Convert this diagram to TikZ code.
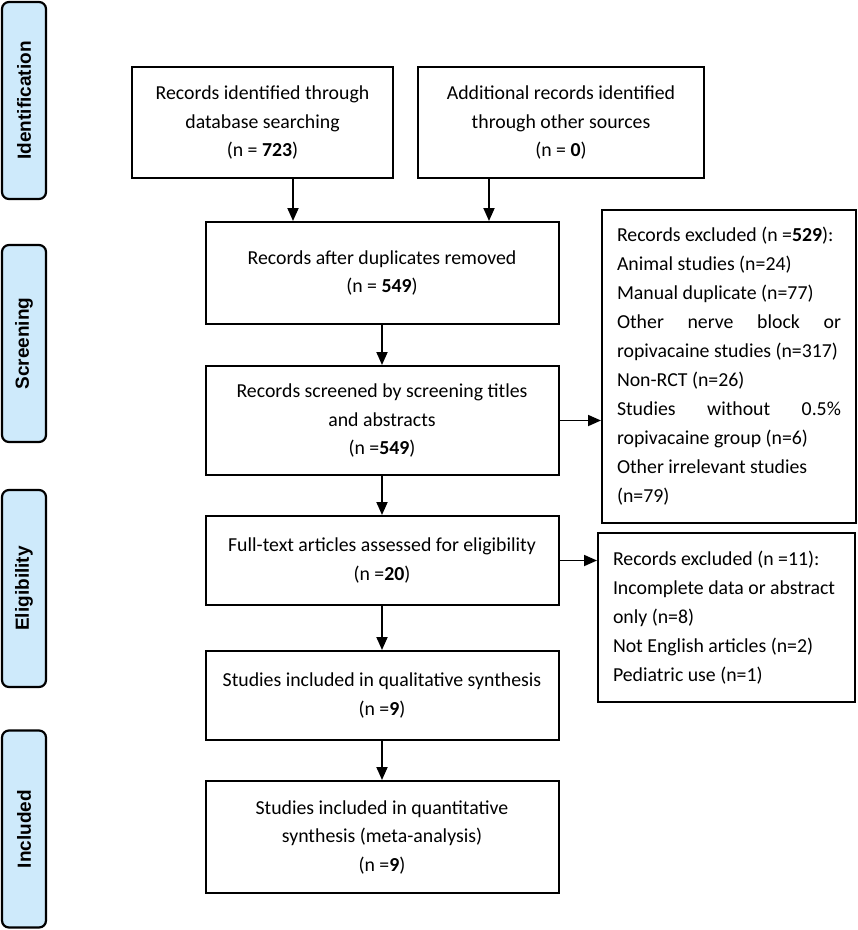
\documentclass[tikz,border=0pt]{standalone}
\usepackage{fontspec}
\usepackage{xcolor}
\setmainfont{Carlito}
\newfontfamily\barfont{Liberation Sans}
\usetikzlibrary{arrows.meta}
\definecolor{barblue}{RGB}{206,234,251}

\begin{document}
\begin{tikzpicture}[x=1pt,y=-1pt,
                flow box/.style={draw=black,line width=2pt,rectangle,minimum width=#1,minimum height=20pt,align=center,inner sep=0pt,font=\fontsize{19.8}{28.5}\selectfont},
                flow box/.default=353pt,
                excl box/.style={draw=black,line width=2pt,rectangle,text width=#1,align=justify,inner xsep=15pt,inner ysep=0pt,font=\fontsize{19.8}{29}\selectfont},
                side bar/.style={draw=black,line width=2.2pt,fill=barblue,rounded corners=7pt,rotate=90,minimum width=197pt,minimum height=44pt,inner sep=0pt,font=\barfont\bfseries\fontsize{19}{20}\selectfont},
                flow arrow/.style={line width=1.8pt,-{Triangle[length=13pt,width=11pt]}}]
                \useasboundingbox (0,0) rectangle (858,930);
                % phase bars on the left
                \node[side bar] (identBar) at (24,100.5) {Identification};
                \node[side bar] (screenBar) at (24,343.5) {Screening};
                \node[side bar] (eligBar) at (24,588.5) {Eligibility};
                \node[side bar] (inclBar) at (24,829) {Included};
                % main flow
                \node[flow box=261pt,minimum height=111pt] (database) at (262.5,122.5) {Records identified through\\database searching\\(n = \textbf{723})};
                \node[flow box=286pt,minimum height=111pt] (otherSrc) at (561,122.5) {Additional records identified\\through other sources\\(n = \textbf{0})};
                \node[flow box,minimum height=102pt] (dupRemoved) at (382,273) {Records after duplicates removed\\(n = \textbf{549})};
                \node[flow box,minimum height=109pt] (screened) at (382,420.5) {Records screened by screening titles\\and abstracts\\(n =\textbf{549})};
                \node[flow box,minimum height=89pt] (fullText) at (382,560.5) {Full-text articles assessed for eligibility\\(n =\textbf{20})};
                \node[flow box,minimum height=89pt] (qualit) at (382,695.5) {Studies included in qualitative synthesis\\(n =\textbf{9})};
                \node[flow box,minimum height=112pt] (quantit) at (382,837) {Studies included in quantitative\\synthesis (meta-analysis)\\(n =\textbf{9})};
                % exclusion boxes
                \node[excl box=224pt,minimum height=313pt] (exclScreen) at (729,366.5) {Records excluded (n =\textbf{529}):\\
                    Animal studies (n=24)\\
                    Manual duplicate (n=77)\\
                    Other nerve block or\linebreak ropivacaine studies (n=317)\\
                    Non-RCT (n=26)\\
                    Studies without 0.5\%\linebreak ropivacaine group (n=6)\\
                    Other irrelevant studies\\
                    (n=79)};
                \node[excl box=227pt,minimum height=169pt] (exclElig) at (726.5,617.5) {Records excluded (n =11):\\
                    Incomplete data or abstract\\
                    only (n=8)\\
                    Not English articles (n=2)\\
                    Pediatric use (n=1)};
                % connectors
                \draw[flow arrow] ([xshift=30.5pt]database.south) -- ([xshift=30.5pt]database.south |- dupRemoved.north);
                \draw[flow arrow] ([xshift=-72pt]otherSrc.south) -- ([xshift=-72pt]otherSrc.south |- dupRemoved.north);
                \draw[flow arrow] (dupRemoved) -- (screened);
                \draw[flow arrow] (screened) -- (fullText);
                \draw[flow arrow] (fullText) -- (qualit);
                \draw[flow arrow] (qualit) -- (quantit);
                \draw[flow arrow] (screened.east) -- (screened.east -| exclScreen.west);
                \draw[flow arrow] (fullText.east) -- (fullText.east -| exclElig.west);
            \end{tikzpicture}
\end{document}
